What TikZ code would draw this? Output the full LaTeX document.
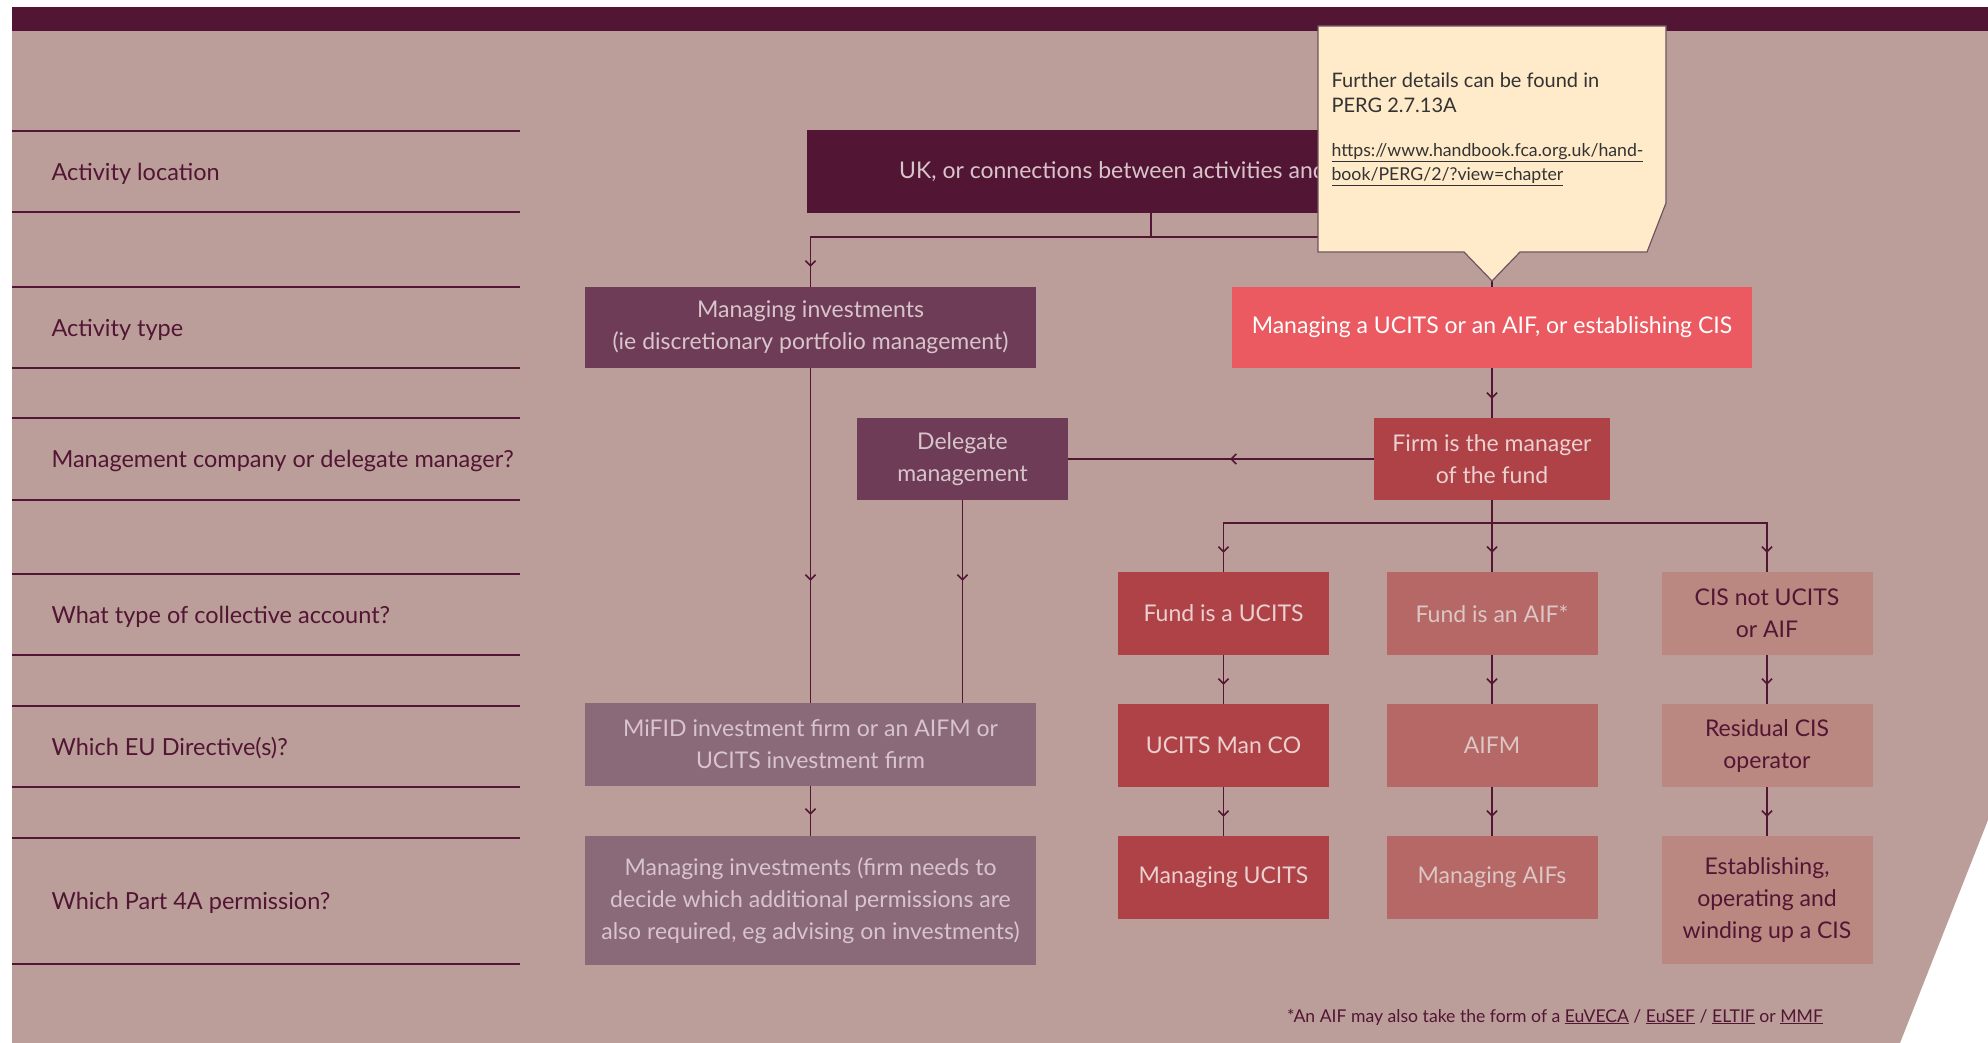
\documentclass[tikz,border=0pt]{standalone}
\usepackage{fontspec}
\setmainfont{Lato}
\usetikzlibrary{arrows.meta,decorations.markings}
\definecolor{ink}{HTML}{521533}
\definecolor{bg}{HTML}{BB9E9A}
\definecolor{purp}{HTML}{6E3C56}
\definecolor{mauve}{HTML}{8A6978}
\definecolor{coral}{HTML}{EA5A60}
\definecolor{brick}{HTML}{AE4246}
\definecolor{rose}{HTML}{B56865}
\definecolor{dust}{HTML}{BB8781}
\definecolor{cream}{HTML}{FFEBC9}
\definecolor{lilac}{HTML}{D8C5CB}
\definecolor{blush}{HTML}{EBD0D0}
\definecolor{pale}{HTML}{DCC6C6}
\begin{document}
\begin{tikzpicture}[x=1pt,y=-1pt,
  box/.style={rectangle,inner sep=0pt,align=center,minimum width=211pt,
    minimum height=83pt,font=\fontsize{23}{32}\selectfont},
  rowlabel/.style={anchor=west,text=ink,font=\fontsize{23.5}{28}\selectfont},
  rule/.style={draw=ink,line width=1.5pt},
  conn/.style={draw=ink,line width=1.6pt,postaction={decorate},
    decoration={markings,mark=at position #1 with {\arrow{Straight Barb[length=5pt,width=10pt]}}}},
  conn/.default=-19pt]
\useasboundingbox (0,0) rectangle (1988,1043);
\fill[bg] (12,31) -- (1988,31) -- (1988,820) -- (1900,1043) -- (12,1043) -- cycle;
\fill[ink] (12,7) rectangle (1988,31);

\foreach \ya/\yb/\txt in {131/212/Activity location,287/368/Activity type,
    418/500/Management company or delegate manager?,574/655/What type of collective account?,
    706/787/Which EU Directive(s)?,838/964/Which Part 4A permission?}{
  \draw[rule] (12,\ya) -- (520,\ya);
  \draw[rule] (12,\yb) -- (520,\yb);
  \node[rowlabel] (row\ya) at (48,{(\ya+\yb)/2+2}) {\txt};
}

\node[box,fill=ink,text=lilac,minimum width=688pt] (uk) at (1151,171.5)
  {UK, or connections between activities and the UK};
\node[box,fill=purp,text=lilac,minimum width=451pt,minimum height=81pt] (mi) at (810.5,327.5)
  {Managing investments\\(ie discretionary portfolio management)};
\node[box,fill=coral,text=white,minimum width=520pt,minimum height=81pt] (cis) at (1492,327.5)
  {Managing a UCITS or an AIF, or establishing CIS};
\node[box,fill=purp,text=lilac,minimum height=82pt] (deleg) at (962.5,459) {Delegate\\management};
\node[box,fill=brick,text=blush,minimum width=236pt,minimum height=82pt] (firm) at (1492,459)
  {Firm is the manager\\of the fund};

\node[box,fill=brick,text=blush] (fu) at (1223.5,613.5) {Fund is a UCITS};
\node[box,fill=rose,text=pale] (fa) at (1492,613.5) {Fund is an AIF*};
\node[box,fill=dust,text=ink] (fc) at (1767,613.5) {CIS not UCITS\\or AIF};
\node[box,fill=brick,text=blush] (ucm) at (1223.5,745.5) {UCITS Man CO};
\node[box,fill=rose,text=pale] (aifm) at (1492,745.5) {AIFM};
\node[box,fill=dust,text=ink] (rc) at (1767,745.5) {Residual CIS\\operator};
\node[box,fill=brick,text=blush] (mu) at (1223.5,877.5) {Managing UCITS};
\node[box,fill=rose,text=pale] (ma) at (1492,877.5) {Managing AIFs};
\node[box,fill=dust,text=ink,minimum height=128pt] (ec) at (1767,900)
  {Establishing,\\operating and\\winding up a CIS};

\node[box,fill=mauve,text=lilac,minimum width=451pt] (mifid) at (810.5,744.5)
  {MiFID investment firm or an AIFM or\\UCITS investment firm};
\node[box,fill=mauve,text=lilac,minimum width=451pt,minimum height=129pt] (perm) at (810.5,900.5)
  {Managing investments (firm needs to\\decide which additional permissions are\\also required, eg advising on investments)};

\draw[conn=-20pt] (uk.south) -- ++(0,24) -| (mi.north);
\draw[conn=-20pt] (uk.south) -- ++(0,24) -| (cis.north);
\draw[conn] (cis) -- (firm);
\draw[conn=0.47] (firm) -- (deleg);
\draw[conn] (firm.south) -- ++(0,23) -| (fu.north);
\draw[conn] (firm.south) -- ++(0,23) -| (fa.north);
\draw[conn] (firm.south) -- ++(0,23) -| (fc.north);
\draw[conn] (fu) -- (ucm);
\draw[conn] (ucm) -- (mu);
\draw[conn] (fa) -- (aifm);
\draw[conn] (aifm) -- (ma);
\draw[conn] (fc) -- (rc);
\draw[conn] (rc) -- (ec);
\draw[conn=-122pt] (mi) -- (mifid);
\draw[conn=-122pt] (deleg.south) -- (deleg.south |- mifid.north);
\draw[conn=-21pt] (mifid) -- (perm);

\draw[fill=cream,draw=ink!40!gray,line width=1.2pt] (1318,26) -- (1666,26) -- (1666,203)
  -- (1647,252) -- (1520,252) -- (1492,281) -- (1464,252) -- (1318,252) -- cycle;
\node[anchor=west,align=left,text=black!80,font=\fontsize{20}{25}\selectfont] (note) at (1328,92.5)
  {Further details can be found in\\PERG 2.7.13A};
\node[anchor=west,align=left,text=black!80,font=\fontsize{17.7}{24}\selectfont] (link) at (1328,165)
  {\underline{https://www.handbook.fca.org.uk/hand-}\\\underline{book/PERG/2/?view=chapter}};

\node[text=ink,font=\fontsize{17.6}{20}\selectfont] (foot) at (1555,1017)
  {*An AIF may also take the form of a \underline{EuVECA} / \underline{EuSEF} / \underline{ELTIF} or \underline{MMF}};
\end{tikzpicture}
\end{document}
